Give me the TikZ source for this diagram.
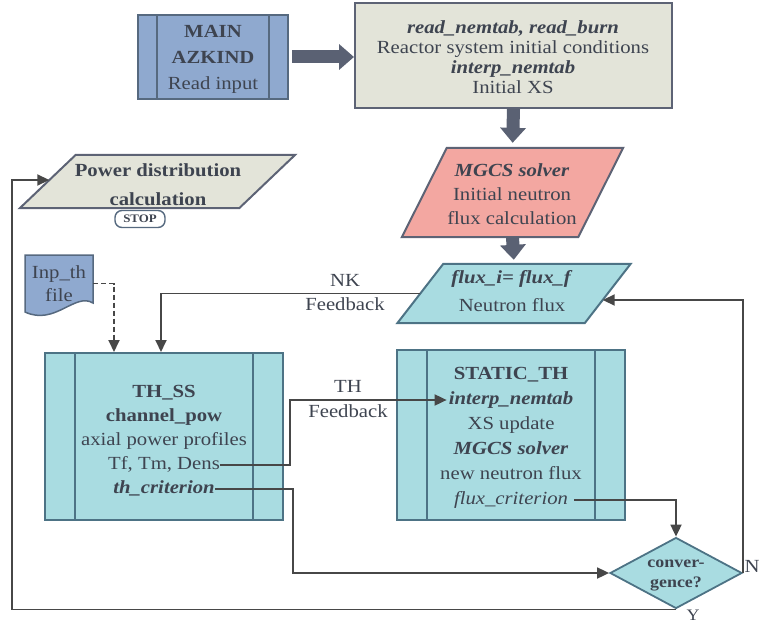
\documentclass[tikz,border=0pt]{standalone}
\usepackage{fontspec}
\setmainfont{Liberation Serif}[FakeStretch=1.12]
\usetikzlibrary{shapes.geometric, arrows.meta, calc}

\definecolor{mainfill}{HTML}{8FA9CF}
\definecolor{mainline}{HTML}{56697F}
\definecolor{greyfill}{HTML}{E3E4D9}
\definecolor{greyline}{HTML}{5D6375}
\definecolor{pinkfill}{HTML}{F3A7A1}
\definecolor{cyanfill}{HTML}{A9DCE1}
\definecolor{cyanline}{HTML}{4D7385}
\definecolor{textcol}{HTML}{3E4450}
\definecolor{linecol}{HTML}{474747}
\definecolor{arrowcol}{HTML}{5A6173}

\tikzset{
  txt/.style={text=textcol, inner sep=0pt, align=center, font=\fontsize{18.5}{20}\selectfont},
  line/.style={txt, text height=12pt, text depth=4pt},
  procbox/.style={draw, rectangle, line width=2pt, inner sep=0pt},
  sidebars/.style 2 args={path picture={
    \draw[draw=#2, line width=1.8pt] ([xshift=#1]path picture bounding box.north west) -- ([xshift=#1]path picture bounding box.south west);
    \draw[draw=#2, line width=1.8pt] ([xshift=-#1]path picture bounding box.north east) -- ([xshift=-#1]path picture bounding box.south east);}},
  body/.style={inner sep=0pt},
  ioline/.style={line width=2pt, line join=miter},
  decision/.style={diamond, draw=cyanline, fill=cyanfill, line width=1.8pt, inner sep=0pt},
  stopbox/.style={draw=mainline, fill=white, rounded corners=7pt, line width=1.4pt, minimum width=50pt, minimum height=17pt, inner sep=0pt, text=textcol, font=\fontsize{11.5}{13}\selectfont\bfseries},
  bigarrow/.style={draw=arrowcol, line width=13pt, -{Triangle[length=15pt, width=25pt]}},
  link/.style={draw=linecol, line width=1.8pt, -{Triangle[length=12pt, width=11pt]}}
}

\begin{document}
\begin{tikzpicture}[x=1pt, y=-1pt]
  \useasboundingbox (0,0) rectangle (760,623);

  % boxes
  \node[procbox, draw=mainline, fill=mainfill, minimum width=150pt, minimum height=84pt, sidebars={19pt}{mainline}] (main) at (213,57) {};
  \node[procbox, draw=greyline, fill=greyfill, minimum width=317pt, minimum height=105pt] (init) at (513.5,55.5) {};
  \node[procbox, draw=cyanline, fill=cyanfill, minimum width=238pt, minimum height=167pt, sidebars={30pt}{cyanline}] (thss) at (164,436.5) {};
  \node[procbox, draw=cyanline, fill=cyanfill, minimum width=228pt, minimum height=170pt, sidebars={30pt}{cyanline}] (statth) at (511,435) {};
  \node[decision, minimum width=132pt, minimum height=71pt] (conv) at (676,573) {};

  % parallelograms: body node, then slanted outline
  \node[body, minimum width=176pt, minimum height=89pt] (mgcs) at (512.5,192.5) {};
  \filldraw[ioline, fill=pinkfill, draw=greyline] ([xshift=22.5pt]mgcs.north west) -- ([xshift=22.5pt]mgcs.north east) -- ([xshift=-22.5pt]mgcs.south east) -- ([xshift=-22.5pt]mgcs.south west) -- cycle;
  \node[body, minimum width=187pt, minimum height=59pt] (flux) at (514,293.5) {};
  \filldraw[ioline, fill=cyanfill, draw=cyanline] ([xshift=23pt]flux.north west) -- ([xshift=23pt]flux.north east) -- ([xshift=-23pt]flux.south east) -- ([xshift=-23pt]flux.south west) -- cycle;
  \node[body, minimum width=219pt, minimum height=53pt] (power) at (157.5,181.5) {};
  \filldraw[ioline, fill=greyfill, draw=greyline] ([xshift=28pt]power.north west) -- ([xshift=28pt]power.north east) -- ([xshift=-28pt]power.south east) -- ([xshift=-28pt]power.south west) -- cycle;
  \node[stopbox] (stop) at (140,219) {STOP};

  % input file
  \filldraw[fill=mainfill, draw=mainline, line width=1.5pt] (25,255) -- (93,255) -- (93,303) .. controls (75,292) and (55,326) .. (25,312) -- cycle;

  % texts
  \node[txt] (maintext) at (213,59) {\textbf{MAIN}\\[6pt]\textbf{AZKIND}\\[6pt]Read input};
  \node[txt] (inittext) at (513,57.5) {\textbf{\textit{read\_nemtab, read\_burn}}\\Reactor system initial conditions\\\textbf{\textit{interp\_nemtab}}\\Initial XS};
  \node[txt] (mgcstext) at (512,194) {\textbf{\textit{MGCS solver}}\\[4pt]Initial neutron\\[4pt]flux calculation};
  \node[txt] (fluxtext) at (512,291) {\textbf{\textit{flux\_i= flux\_f}}\\[8pt]Neutron flux};
  \node[txt, font=\fontsize{18.5}{20}\selectfont\bfseries] (powertext) at (158,185) {Power distribution\\[9pt]calculation};
  \node[txt, minimum width=68pt] (inp) at (59,283.5) {Inp\_th\\[3pt]file};
  \node[line, font=\fontsize{18.5}{20}\selectfont\bfseries] (thsshead) at (164,393) {TH\_SS};
  \node[line, font=\fontsize{18.5}{20}\selectfont\bfseries] (chanpow) at (164,417) {channel\_pow};
  \node[line] (axial) at (164,441) {axial power profiles};
  \node[line] (tfdens) at (164,465) {Tf, Tm, Dens};
  \node[line, font=\fontsize{18.5}{20}\selectfont\bfseries\itshape] (thcrit) at (164,489) {th\_criterion};
  \node[line, font=\fontsize{18.5}{20}\selectfont\bfseries] (stathead) at (511,375) {STATIC\_TH};
  \node[line, font=\fontsize{18.5}{20}\selectfont\bfseries\itshape] (interp) at (511,400) {interp\_nemtab};
  \node[line] (xsupd) at (511,425) {XS update};
  \node[line, font=\fontsize{18.5}{20}\selectfont\bfseries\itshape] (solver) at (511,450) {MGCS solver};
  \node[line] (newflux) at (511,475) {new neutron flux};
  \node[line, font=\fontsize{18.5}{20}\selectfont\itshape] (fluxcrit) at (511,500) {flux\_criterion};
  \node[txt, font=\fontsize{16}{20}\selectfont\bfseries] (convtext) at (676,575) {conver-\\gence?};
  \node[txt] (nklabel) at (345,293) {NK\\[4pt]Feedback};
  \node[txt] (thlabel) at (348,399.5) {TH\\[5pt]Feedback};
  \node[line] (nlabel) at (752,568) {N};
  \node[txt, font=\fontsize{16}{18}\selectfont, text height=11pt, text depth=0pt, anchor=north] (ylabel) at (693,609) {Y};

  % points on slanted edges and turning lines
  \coordinate (fluxin) at ($(flux.east)+(-5,6.5)$);
  \coordinate (powerin) at ($(power.west)+(1.5,-1.5)$);
  \coordinate (loopx) at (12,0);
  \coordinate (thfbx) at (290,0);
  \coordinate (critx) at (293,0);

  % connectors
  \draw[bigarrow, shorten <=3pt] (main.east) -- (main.east -| init.west);
  \draw[bigarrow, shorten >=5pt] (init.south) -- (mgcs.north);
  \draw[bigarrow, shorten >=4pt] (mgcs.south) -- (flux.north);
  \draw[link] (flux.west) -| ([xshift=-3pt]thss.north);
  \draw[link, dash pattern=on 5pt off 3pt] (inp.east) -| ([xshift=-50pt]thss.north);
  \draw[link] (tfdens.east) -- (tfdens.east -| thfbx) |- ([xshift=-2pt]interp.west);
  \draw[link] (thcrit.east) -- (thcrit.east -| critx) |- (conv.west);
  \draw[link] ([xshift=6pt]fluxcrit.east) -| (conv.north);
  \draw[link] (conv.east) |- (fluxin);
  \draw[link] (conv.south) -- (conv.south -| loopx) |- (powerin);
\end{tikzpicture}
\end{document}
